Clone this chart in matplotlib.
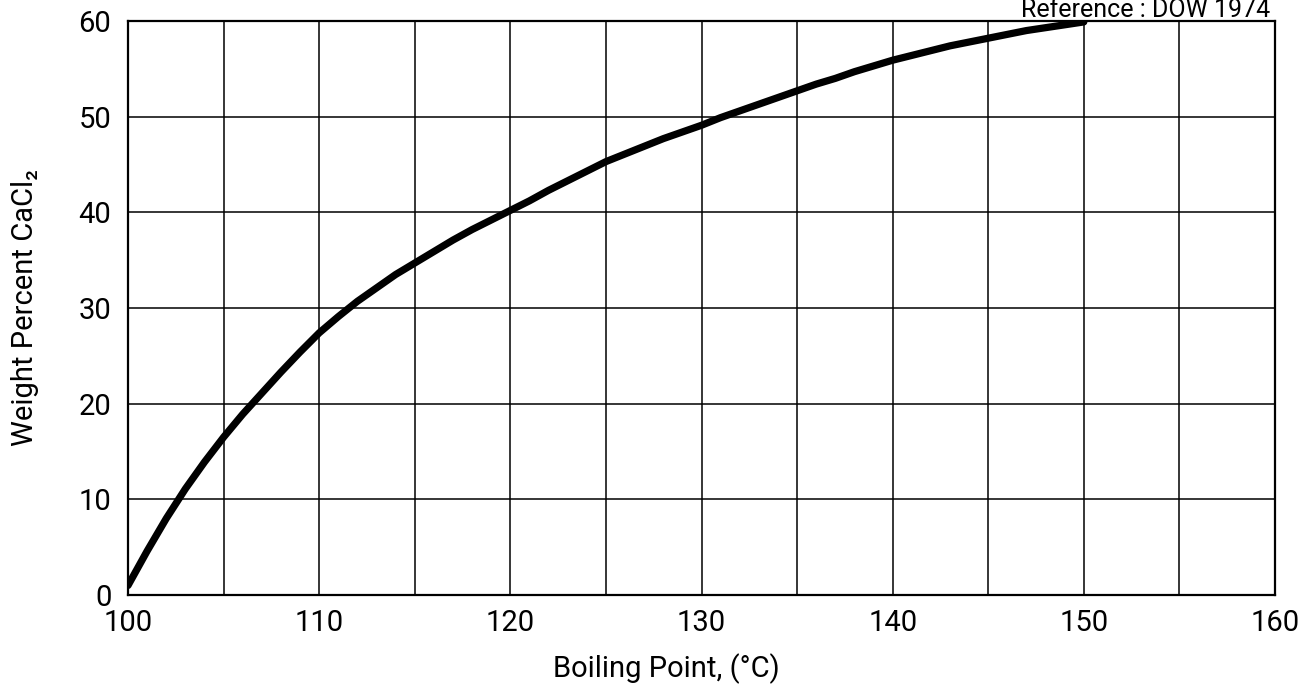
import matplotlib
matplotlib.use("Agg")
import matplotlib.pyplot as plt

# boiling point (deg C) vs weight percent CaCl2
boiling_point = list(range(100, 151))
weight_pct = [1.0, 4.6, 8.0, 11.1, 13.9, 16.5, 18.9, 21.1, 23.3, 25.4,
              27.4, 29.1, 30.7, 32.1, 33.5, 34.7, 35.9, 37.1, 38.2, 39.2,
              40.2, 41.2, 42.3, 43.3, 44.3, 45.3, 46.1, 46.9, 47.7, 48.4,
              49.1, 49.9, 50.6, 51.3, 52.0, 52.7, 53.4, 54.0, 54.7, 55.3,
              55.9, 56.4, 56.9, 57.4, 57.8, 58.2, 58.6, 59.0, 59.3, 59.6,
              59.9]

x_ticks = [100, 110, 120, 130, 140, 150, 160]
y_ticks = [0, 10, 20, 30, 40, 50, 60]
x_grid = list(range(100, 161, 5))

plt.rcParams['font.family'] = ['Roboto', 'DejaVu Sans']

fig = plt.figure(figsize=(13.05, 6.97), dpi=100)
ax = fig.add_axes([0.0981, 0.1463, 0.8789, 0.8236])

for xv in x_grid:
    ax.axvline(xv, color='black', linewidth=1.1, zorder=1)
for yv in y_ticks:
    ax.axhline(yv, color='black', linewidth=1.1, zorder=1)

ax.plot(boiling_point, weight_pct, color='black', linewidth=5.2,
        solid_capstyle='round', solid_joinstyle='round', zorder=3)

ax.set_xlim(100, 160)
ax.set_ylim(0, 60)
ax.set_xticks(x_ticks)
ax.set_yticks(y_ticks)
ax.tick_params(length=0, labelsize=21)
ax.tick_params(axis='x', pad=10)
ax.tick_params(axis='y', pad=12)
for s in ax.spines.values():
    s.set_linewidth(1.6)

ax.set_xlabel('Boiling Point, (°C)', fontsize=21)
ax.xaxis.set_label_coords(0.469, -0.102)
ax.set_ylabel('Weight Percent CaCl₂', fontsize=21)
ax.yaxis.set_label_coords(-0.078, 0.5)

fig.text(0.973, 1 - 17 / 697, 'Reference : DOW 1974', fontsize=18,
         ha='right', va='baseline')

fig.savefig('out.png', dpi=100)
